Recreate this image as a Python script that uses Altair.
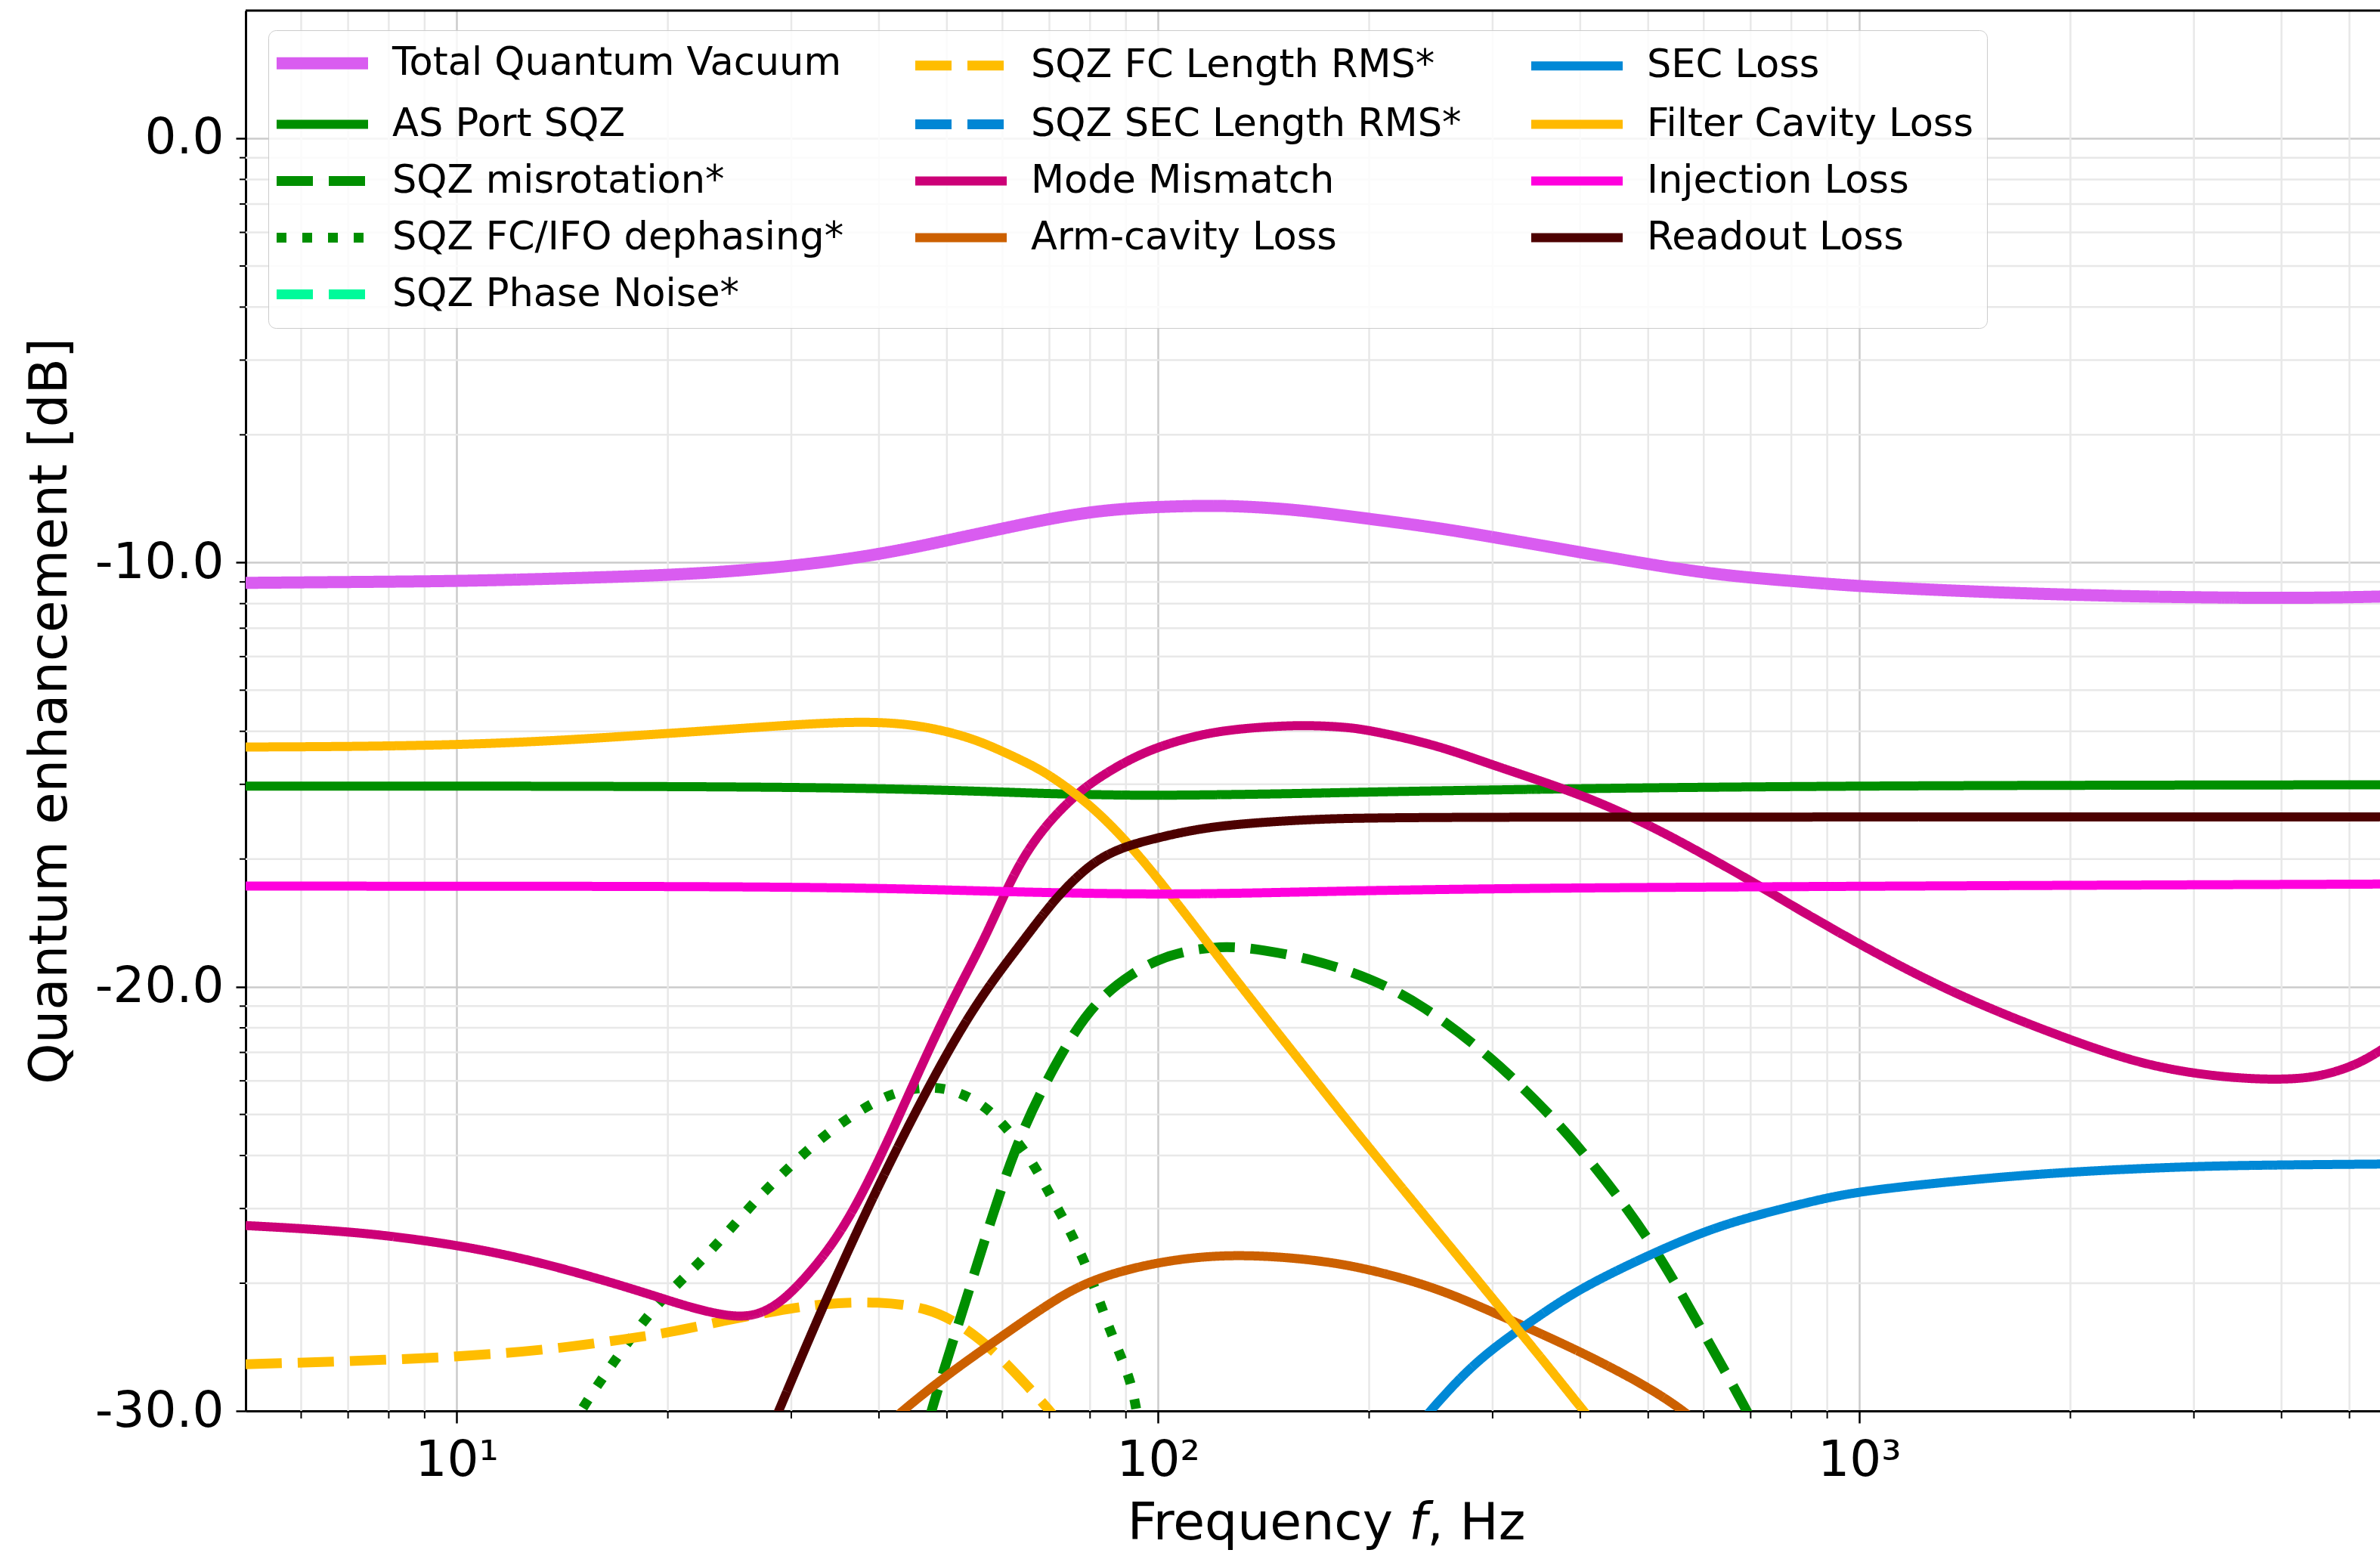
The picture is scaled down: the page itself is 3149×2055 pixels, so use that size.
import math
import altair as alt
import pandas as pd

# ---------------- curves: frequency [Hz] / enhancement [dB] ----------------
tqv_f = [5, 7, 10, 14, 20, 25, 30, 35, 40, 45, 50, 60, 70, 80, 90, 100, 115, 130, 150, 170,
         200, 250, 300, 350, 400, 500, 600, 700, 850, 1000, 1300, 1600, 2000, 2500, 3000, 4000, 5000, 5600]
tqv_db = [-10.48, -10.46, -10.44, -10.38, -10.30, -10.20, -10.08, -9.95, -9.80, -9.64, -9.48, -9.20,
          -8.97, -8.81, -8.73, -8.69, -8.66, -8.67, -8.73, -8.82, -8.97, -9.18, -9.40, -9.59, -9.76,
          -10.04, -10.24, -10.36, -10.47, -10.56, -10.65, -10.71, -10.76, -10.80, -10.82, -10.84, -10.82, -10.80]

asport_f = [5, 10, 20, 30, 40, 50, 60, 70, 85, 100, 130, 166, 200, 300, 500, 700, 1000, 2000, 5600]
asport_db = [-15.27, -15.27, -15.28, -15.30, -15.33, -15.37, -15.41, -15.45, -15.48, -15.49, -15.47,
             -15.44, -15.41, -15.36, -15.31, -15.29, -15.27, -15.25, -15.24]

misrot_f = [45, 47.3, 52.3, 58.5, 63.1, 68.4, 76.4, 83.5, 91.4, 100, 110, 120, 128, 140, 166, 200,
            238, 300, 355.6, 400, 500, 600, 695, 720]
misrot_db = [-31.5, -30.05, -27.8, -25.2, -23.65, -22.39, -20.97, -20.2, -19.71, -19.35, -19.15,
             -19.07, -19.06, -19.12, -19.35, -19.78, -20.41, -21.68, -22.88, -23.8, -25.84, -28.17,
             -30.05, -30.6]

dephase_f = [14, 14.9, 16.7, 19.1, 21.9, 24.4, 27.3, 30.9, 35, 40.4, 44, 47.8, 51.6, 55.8, 59.7,
             66.1, 70.6, 74.7, 80, 85.5, 91.4, 93.3, 95]
dephase_db = [-31.0, -30.05, -28.87, -27.53, -26.61, -25.77, -24.85, -24.0, -23.23, -22.6, -22.42,
              -22.35, -22.46, -22.74, -23.16, -24.08, -25.0, -25.70, -26.76, -28.16, -29.22, -30.05, -30.8]

fcrms_f = [5, 7, 10, 13.7, 17.5, 20, 23.9, 28.6, 33.4, 40, 46.8, 52.3, 58.5, 65.3, 70.6, 75]
fcrms_db = [-28.90, -28.83, -28.73, -28.55, -28.3, -28.16, -27.88, -27.64, -27.46, -27.42, -27.56,
            -27.95, -28.59, -29.43, -30.05, -30.6]

mm_f = [5, 6, 7, 8, 10, 12, 14, 17, 20, 22, 24, 25.5, 27, 29, 31.9, 35.7, 40, 44.2, 48, 51.7,
        56.5, 61, 65, 70, 75, 80, 90, 100, 115, 130, 150, 166, 185, 200, 250, 300, 400, 500, 600,
        700, 800, 1000, 1250, 1550, 2000, 2500, 3000, 3500, 3950, 4400, 4800, 5200, 5600]
mm_db = [-25.63, -25.70, -25.78, -25.87, -26.09, -26.35, -26.62, -27.02, -27.39, -27.6, -27.74,
         -27.78, -27.72, -27.45, -26.76, -25.7, -24.1, -22.5, -21.2, -20.1, -18.9, -17.65, -16.8,
         -16.1, -15.6, -15.2, -14.68, -14.34, -14.05, -13.92, -13.85, -13.84, -13.88, -13.95,
         -14.3, -14.78, -15.45, -16.17, -16.88, -17.5, -18.08, -19.0, -19.85, -20.55, -21.26,
         -21.8, -22.05, -22.16, -22.19, -22.15, -22.0, -21.78, -21.45]

arm_f = [40, 42.8, 50, 60, 70, 80, 100, 127, 166, 200, 250, 300, 400, 500, 568, 620]
arm_db = [-30.5, -30.05, -29.15, -28.23, -27.46, -26.9, -26.47, -26.29, -26.42, -26.65, -27.1,
          -27.67, -28.59, -29.43, -30.05, -30.6]

sec_f = [225, 243, 270, 300, 350, 400, 500, 600, 700, 850, 1000, 1500, 2000, 3000, 4000, 5600]
sec_db = [-30.7, -30.05, -29.2, -28.52, -27.75, -27.11, -26.33, -25.77, -25.42, -25.07, -24.81,
          -24.52, -24.36, -24.23, -24.2, -24.18]

fcloss_f = [5, 7, 10, 14, 20, 25, 30, 35, 40, 45, 50, 55, 60, 65, 70, 80, 90, 100, 115, 130, 150,
            175, 200, 250, 300, 350, 400, 450]
fcloss_db = [-14.35, -14.34, -14.30, -14.20, -14.03, -13.92, -13.83, -13.77, -13.76, -13.83, -13.98,
             -14.18, -14.45, -14.72, -15.0, -15.7, -16.55, -17.45, -18.75, -19.9, -21.2, -22.6,
             -23.8, -25.75, -27.35, -28.7, -29.9, -30.95]

inj_f = [5, 20, 40, 60, 80, 100, 130, 166, 300, 1000, 5600]
inj_db = [-17.63, -17.63, -17.67, -17.76, -17.80, -17.82, -17.80, -17.76, -17.68, -17.63, -17.58]

readout_f = [25, 28.7, 33.4, 40, 48.9, 56, 64, 70, 75, 81.7, 90, 100, 110, 127, 166, 200, 300, 1000, 5600]
readout_db = [-32.4, -30.05, -27.46, -24.63, -21.82, -20.2, -18.95, -18.1, -17.55, -17.0, -16.68,
              -16.49, -16.33, -16.17, -16.05, -16.02, -16.0, -16.0, -16.0]

# ---------------- series styling ----------------
names = ["Total Quantum Vacuum", "AS Port SQZ", "SQZ misrotation*", "SQZ FC/IFO dephasing*",
         "SQZ Phase Noise*", "SQZ FC Length RMS*", "SQZ SEC Length RMS*", "Mode Mismatch",
         "Arm-cavity Loss", "SEC Loss", "Filter Cavity Loss", "Injection Loss", "Readout Loss"]
colors = ["#d95cf0", "#008f00", "#008f00", "#008f00", "#00fa9a", "#ffbd00", "#0086d4", "#cc0077",
          "#cc6000", "#0088d6", "#ffb900", "#ff00dd", "#4d0000"]
styles = ["solid", "solid", "dashed", "dotted", "dashed", "dashed", "dashed", "solid",
          "solid", "solid", "solid", "solid", "solid"]
widths = [16, 12, 13, 13, 13, 13, 13, 12, 12, 12, 12, 12, 12]
dash_patterns = {"solid": [1, 0], "dashed": [48, 21], "dotted": [13, 21]}

curves = {
    "Total Quantum Vacuum": (tqv_f, tqv_db),
    "AS Port SQZ": (asport_f, asport_db),
    "SQZ misrotation*": (misrot_f, misrot_db),
    "SQZ FC/IFO dephasing*": (dephase_f, dephase_db),
    "SQZ FC Length RMS*": (fcrms_f, fcrms_db),
    "Mode Mismatch": (mm_f, mm_db),
    "Arm-cavity Loss": (arm_f, arm_db),
    "SEC Loss": (sec_f, sec_db),
    "Filter Cavity Loss": (fcloss_f, fcloss_db),
    "Injection Loss": (inj_f, inj_db),
    "Readout Loss": (readout_f, readout_db),
}

rows = []
for name, (fs, dbs) in curves.items():
    for i, (f, d) in enumerate(zip(fs, dbs)):
        rows.append({"series": name, "f": f, "db": d, "i": i})
df = pd.DataFrame(rows)

# ---------------- legend entry order ----------------
# Entries are meant to read down three columns (5, 4, 4).  Vega sorts a vertical
# multi-column legend by (i % nrows) * ncols + i // nrows and then fills the grid
# row by row, so the domain is permuted to land each name in its cell.
ncols = 3
per_col = [5, 4, 4]
cols, k = [], 0
for n in per_col:
    cols.append(names[k:k + n])
    k += n
nrows = max(per_col)
target = [cols[c][r] for r in range(nrows) for c in range(ncols) if r < len(cols[c])]
n_items = len(names)
vega_rows = math.ceil(n_items / ncols)
perm = sorted(range(n_items), key=lambda i: (i % vega_rows) * ncols + i // vega_rows)
legend_domain = [None] * n_items
for pos, i in enumerate(perm):
    legend_domain[i] = target[pos]

idx = {n: i for i, n in enumerate(names)}
leg_colors = [colors[idx[n]] for n in legend_domain]
leg_dash = [dash_patterns[styles[idx[n]]] for n in legend_domain]
leg_width = [widths[idx[n]] for n in legend_domain]

# ---------------- scales and axes ----------------
W, H = 2824, 1853
F_MIN, F_MAX = 5, 5527
DB_MIN, DB_MAX = -30, 10 * math.log10(2)

x_major = [10, 100, 1000]
x_minor = [m * 10 ** e for e in range(0, 4) for m in range(2, 10)
           if F_MIN < m * 10 ** e < F_MAX and m * 10 ** e not in x_major]
y_major = [-30, -20, -10, 0]
y_minor = [10 * math.log10(m * 10.0 ** e) for e in (-3, -2, -1) for m in range(2, 10)]

x_scale = alt.Scale(type="log", domain=[F_MIN, F_MAX], nice=False)
y_scale = alt.Scale(domain=[DB_MIN, DB_MAX], nice=False, zero=False)

FONT = "DejaVu Sans"
MAJOR_GRID = "#cbcbcb"
MINOR_GRID = "#e8e8e8"

x_axis = alt.Axis(
    orient="bottom", values=x_major, title=None,
    labelExpr="datum.value == 10 ? '10\u00b9' : datum.value == 100 ? '10\u00b2' : '10\u00b3'",
    labelFont=FONT, labelFontSize=66, labelColor="black", labelBaseline="alphabetic",
    labelPadding=69, labelOverlap=False, labelFlush=False,
    tickSize=16, tickWidth=2.5, tickColor="black",
    domainColor="black", domainWidth=3,
    grid=True, gridColor=MAJOR_GRID, gridWidth=2.5,
)
y_axis = alt.Axis(
    orient="left", values=y_major,
    labelExpr="datum.value + '.0'",
    title="Quantum enhancement [dB]", titleFont=FONT, titleFontSize=69,
    titleFontWeight="normal", titleColor="black", titleX=-259, titleBaseline="middle",
    labelFont=FONT, labelFontSize=66, labelColor="black", labelPadding=16, labelOverlap=False,
    tickSize=13, tickWidth=2.5, tickColor="black",
    domainColor="black", domainWidth=3,
    grid=True, gridColor=MAJOR_GRID, gridWidth=2.5,
)

X = alt.X("f:Q", scale=x_scale, axis=x_axis)
Y = alt.Y("db:Q", scale=y_scale, axis=y_axis)

xm_df = pd.DataFrame({"f": x_minor})
ym_df = pd.DataFrame({"db": y_minor})

x_minor_grid = alt.Chart(xm_df).mark_rule(color=MINOR_GRID, strokeWidth=2.5).encode(x=X)
y_minor_grid = alt.Chart(ym_df).mark_rule(color=MINOR_GRID, strokeWidth=2.5).encode(y=Y)
x_minor_ticks = alt.Chart(xm_df).mark_rule(color="black", strokeWidth=2).encode(
    x=X, y=alt.value(H), y2=alt.value(H + 10))
y_minor_ticks = alt.Chart(ym_df).mark_rule(color="black", strokeWidth=2).encode(
    y=Y, x=alt.value(0), x2=alt.value(-8))
one_row = pd.DataFrame({"k": [0]})
top_spine = alt.Chart(one_row).mark_rule(color="black", strokeWidth=3).encode(
    x=alt.value(0), x2=alt.value(W), y=alt.value(0))

# x-axis title "Frequency f, Hz" with an italic f, set as three runs of text
# laid end to end (DejaVu Sans advance widths, in em)
X_TITLE_SIZE = 68
em_frequency, em_space, em_f, em_tail = 5.261, 0.22, 0.352, 1.913
title_center, title_base = 1430, H + 170
run_w = [e * X_TITLE_SIZE for e in (em_frequency, em_space, em_f, em_tail)]
x0 = title_center - sum(run_w) / 2
title_runs = [
    ("Frequency", x0, "normal"),
    ("f", x0 + run_w[0] + run_w[1], "italic"),
    (", Hz", x0 + run_w[0] + run_w[1] + run_w[2], "normal"),
]
x_title = alt.layer(*[
    alt.Chart(one_row).mark_text(text=txt, font=FONT, fontSize=X_TITLE_SIZE, fontStyle=style,
                                 align="left", baseline="alphabetic", color="black").encode(
        x=alt.value(xpos), y=alt.value(title_base))
    for txt, xpos, style in title_runs
])

# a wide, flat custom symbol keeps the legend rows compact
legend = alt.Legend(
    orient="none", legendX=30, legendY=26, columns=ncols,
    symbolType="M-4,0H4", symbolSize=915, symbolOpacity=1, symbolOffset=28,
    labelFont=FONT, labelFontSize=51, labelColor="black", labelOffset=67, labelLimit=0,
    columnPadding=68, rowPadding=22, padding=18, gridAlign="each",
    fillColor="rgba(255,255,255,0.8)", strokeColor="#cccccc", cornerRadius=10,
)

lines = alt.Chart(df).mark_line(clip=True, interpolate="basis", strokeCap="butt",
                                strokeJoin="round").encode(
    x=X, y=Y,
    color=alt.Color("series:N", title=None, legend=legend,
                    scale=alt.Scale(domain=legend_domain, range=leg_colors)),
    strokeDash=alt.StrokeDash("series:N", title=None, legend=legend,
                              scale=alt.Scale(domain=legend_domain, range=leg_dash)),
    strokeWidth=alt.StrokeWidth("series:N", title=None, legend=legend,
                                scale=alt.Scale(type="ordinal", domain=legend_domain, range=leg_width)),
    order=alt.Order("i:Q"),
)

chart = alt.layer(
    x_minor_grid, y_minor_grid, lines, x_minor_ticks, y_minor_ticks, top_spine, x_title
).properties(
    width=W, height=H,
    autosize=alt.AutoSizeParams(type="none"),
    padding={"left": 325, "top": 14, "right": 0, "bottom": 188},
    background="white",
).configure_view(stroke="transparent")

chart.save("out.html", embed_options={"renderer": "svg", "actions": False})
